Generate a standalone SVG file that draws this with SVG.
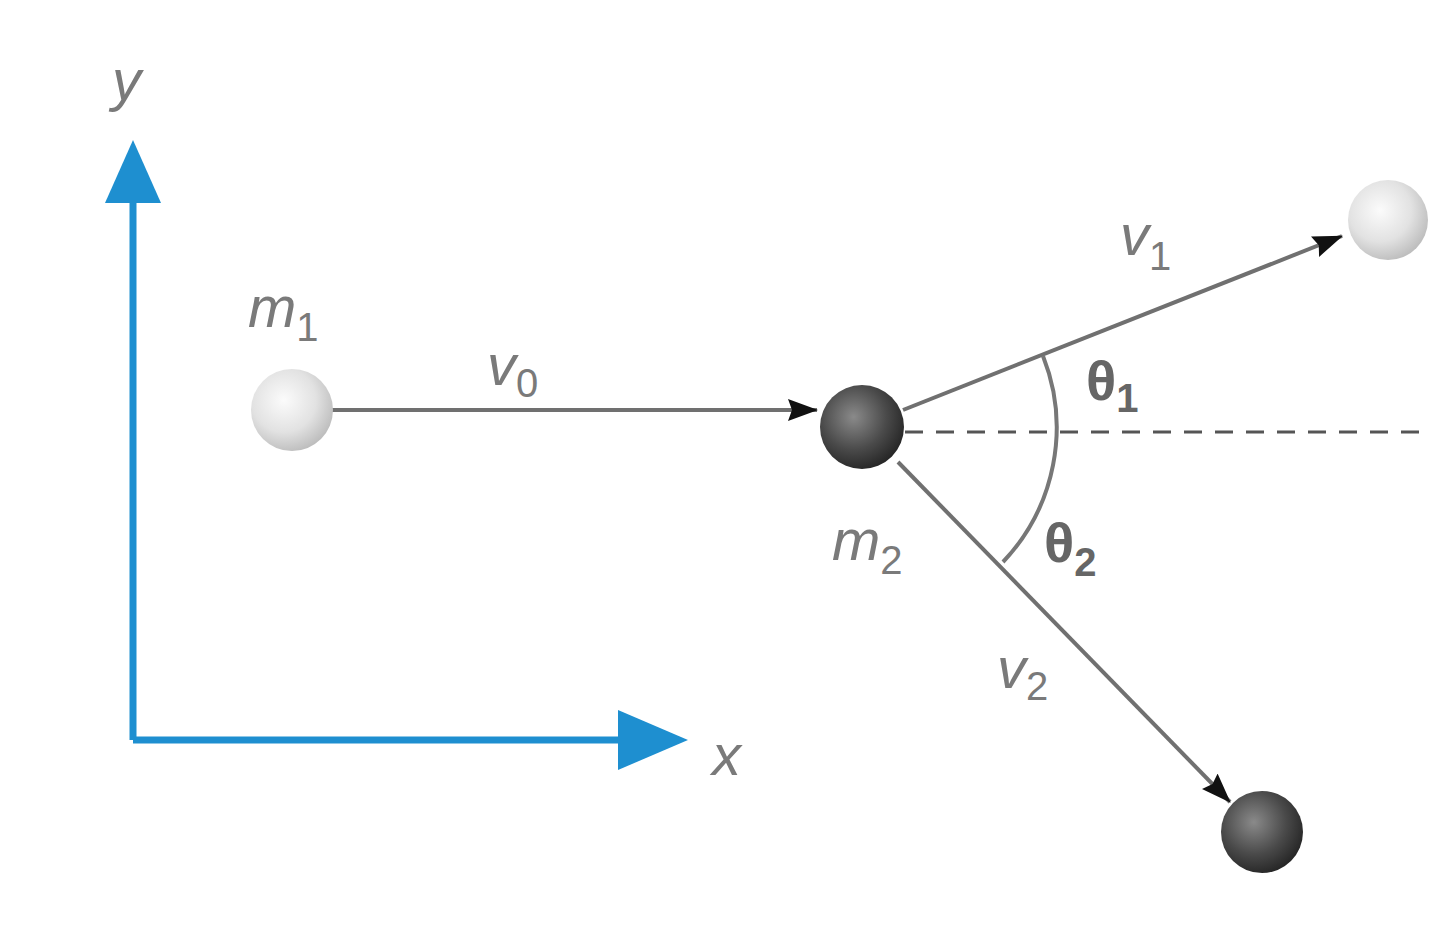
<svg xmlns="http://www.w3.org/2000/svg" width="1440" height="939" viewBox="0 0 1440 939">
<defs>
<radialGradient id="light" cx="0.4" cy="0.38" r="0.65">
<stop offset="0" stop-color="#fbfbfb"/><stop offset="0.6" stop-color="#e2e2e2"/><stop offset="1" stop-color="#bdbdbd"/>
</radialGradient>
<radialGradient id="dark" cx="0.4" cy="0.38" r="0.65">
<stop offset="0" stop-color="#8a8a8a"/><stop offset="0.6" stop-color="#4a4a4a"/><stop offset="1" stop-color="#262626"/>
</radialGradient>
<marker id="ah" markerWidth="30" markerHeight="22" refX="29" refY="11" orient="auto" markerUnits="userSpaceOnUse" viewBox="0 0 30 22">
<path d="M0,0 L30,11 L0,22 L4,11 Z" fill="#111"/>
</marker>
<style>
.lbl{font-family:"Liberation Sans",Arial,sans-serif;font-style:italic;fill:#7a7a7a;font-size:58px}
.sub{font-size:40px;font-style:normal}
.th{font-family:"Liberation Sans",Arial,sans-serif;fill:#666;font-size:56px;font-weight:bold}
.vec{stroke:#707070;stroke-width:4;fill:none}
.axis{stroke:#1e8fd0;stroke-width:7;fill:none}
</style>
</defs>
<rect width="1440" height="939" fill="#fff"/>
<g id="axes">
<path class="axis" d="M133,740 V200 M133,740 H625"/>
<path d="M105,203 L133,140 L161,203 Z" fill="#1e8fd0"/>
<path d="M618,710 L688,740 L618,770 Z" fill="#1e8fd0"/>
<text class="lbl" x="112" y="100">y</text>
<text class="lbl" x="712" y="775">x</text>
</g>
<g id="connectors">
<line class="vec" x1="332" y1="410" x2="817" y2="410" marker-end="url(#ah)"/>
<line x1="905" y1="432" x2="1420" y2="432" stroke="#555" stroke-width="3" stroke-dasharray="18,13"/>
<line class="vec" x1="903" y1="410" x2="1342" y2="236" marker-end="url(#ah)"/>
<line class="vec" x1="898" y1="462" x2="1230" y2="802" marker-end="url(#ah)"/>
<path d="M1043,356 A195,195 0 0 1 1003,562" fill="none" stroke="#777" stroke-width="4"/>
</g>
<g id="m1">
<circle cx="292" cy="410" r="41" fill="url(#light)"/>
<text class="lbl" x="248" y="327">m<tspan class="sub" dy="14">1</tspan></text>
</g>
<g id="m2">
<circle cx="862" cy="427" r="42" fill="url(#dark)"/>
<text class="lbl" x="832" y="560">m<tspan class="sub" dy="14">2</tspan></text>
</g>
<g id="ball1">
<circle cx="1388" cy="220" r="40" fill="url(#light)"/>
</g>
<g id="ball2">
<circle cx="1262" cy="832" r="41" fill="url(#dark)"/>
</g>
<g id="labels">
<text class="lbl" x="487" y="385">v<tspan class="sub" dy="12">0</tspan></text>
<text class="lbl" x="1120" y="255">v<tspan class="sub" dy="15">1</tspan></text>
<text class="lbl" x="997" y="688">v<tspan class="sub" dy="12">2</tspan></text>
<text class="th" x="1086" y="400">θ<tspan class="sub" dy="12">1</tspan></text>
<text class="th" x="1044" y="562">θ<tspan class="sub" dy="14">2</tspan></text>
</g>
</svg>
